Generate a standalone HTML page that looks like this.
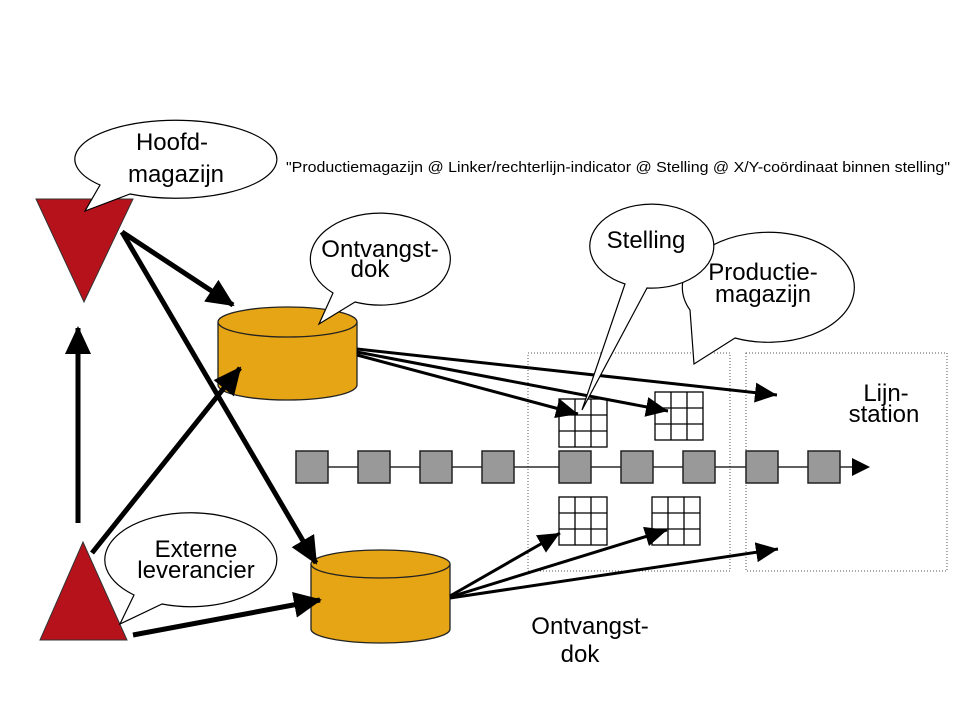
<!DOCTYPE html>
<html><head><meta charset="utf-8"><style>body{margin:0;background:#fff}svg{display:block}text{font-family:"Liberation Sans",sans-serif;fill:#000}</style></head>
<body>
<svg width="960" height="720" viewBox="0 0 960 720" xmlns="http://www.w3.org/2000/svg">
<defs>
<marker id="ah" markerWidth="22" markerHeight="20" refX="22" refY="10" orient="auto" markerUnits="userSpaceOnUse" viewBox="0 0 22 20"><path d="M0,0 L22,10 L0,20 z" fill="#000"/></marker>
<marker id="ahb" markerWidth="28" markerHeight="26" refX="26" refY="13" orient="auto" markerUnits="userSpaceOnUse" viewBox="0 0 28 26"><path d="M0,0 L28,13 L0,26 z" fill="#000"/></marker>
</defs>
<rect x="528" y="353" width="202" height="218" fill="none" stroke="#555" stroke-width="1" stroke-dasharray="1,2"/>
<rect x="746" y="353" width="201" height="218" fill="none" stroke="#555" stroke-width="1" stroke-dasharray="1,2"/>
<line x1="296" y1="467" x2="852" y2="467" stroke="#000" stroke-width="1.2"/>
<path d="M852,458 L870,467 L852,476 z" fill="#000"/>
<g fill="#999" stroke="#222" stroke-width="1.5">
<rect x="296" y="451" width="32" height="32"/><rect x="358" y="451" width="32" height="32"/><rect x="420" y="451" width="32" height="32"/><rect x="482" y="451" width="32" height="32"/><rect x="559" y="451" width="32" height="32"/><rect x="621" y="451" width="32" height="32"/><rect x="683" y="451" width="32" height="32"/><rect x="746" y="451" width="32" height="32"/><rect x="808" y="451" width="32" height="32"/>
</g>
<g fill="#fff" stroke="#000" stroke-width="1.3">
<g transform="translate(559,399)"><rect width="48" height="48"/><path d="M16,0V48M32,0V48M0,16H48M0,32H48"/></g>
<g transform="translate(655,392)"><rect width="48" height="48"/><path d="M16,0V48M32,0V48M0,16H48M0,32H48"/></g>
<g transform="translate(559,497)"><rect width="48" height="48"/><path d="M16,0V48M32,0V48M0,16H48M0,32H48"/></g>
<g transform="translate(652,497)"><rect width="48" height="48"/><path d="M16,0V48M32,0V48M0,16H48M0,32H48"/></g>
</g>
<polygon points="36,199 133,199 84,302" fill="#b5121b" stroke="#333" stroke-width="1"/>
<polygon points="40,640 127,640 83,542" fill="#b5121b" stroke="#333" stroke-width="1"/>
<g stroke="#222" stroke-width="1.3" fill="#e6a514">
<path d="M218,322 V385 A69.5,15 0 0 0 357,385 V322"/>
<ellipse cx="287.5" cy="322" rx="69.5" ry="15"/>
<path d="M311,564 V629 A69.5,14 0 0 0 450,629 V564"/>
<ellipse cx="380.5" cy="564" rx="69.5" ry="14"/>
</g>
<g stroke="#000" stroke-width="5" fill="none" marker-end="url(#ahb)">
<line x1="78" y1="523" x2="78" y2="328"/>
<line x1="122" y1="232" x2="233" y2="305"/>
<line x1="122" y1="232" x2="316" y2="563"/>
<line x1="92" y1="553" x2="240" y2="368"/>
<line x1="133" y1="635" x2="320" y2="600"/>
</g>
<g stroke="#000" stroke-width="3" fill="none" marker-end="url(#ah)">
<line x1="357" y1="349" x2="777" y2="395"/>
<line x1="357" y1="355" x2="578" y2="414"/>
<line x1="357" y1="352" x2="668" y2="411"/>
<line x1="450" y1="596" x2="560" y2="533"/>
<line x1="450" y1="597" x2="667" y2="530"/>
<line x1="450" y1="598" x2="778" y2="549"/>
</g>
<g fill="#fff" stroke="#000" stroke-width="1.2">
<path d="M130,194 A101,39 0 1 0 100,185 L85,211 Z"/>
<path d="M355,302 A70,46 0 1 0 333,293 L319,324 Z"/>
<path d="M735,338 A86,55 0 1 0 690,310 L694,364 Z"/>
<path d="M647,288 A62,42 0 1 0 625,284 L582,410 Z"/>
<path d="M162,604 A86,47 0 1 0 134,595 L120,624 Z"/>
</g>
<g font-size="24">
<text x="172" y="150" text-anchor="middle">Hoofd-</text>
<text x="176" y="182" text-anchor="middle">magazijn</text>
<text x="380" y="257" text-anchor="middle">Ontvangst-</text>
<text x="370" y="277" text-anchor="middle">dok</text>
<text x="646" y="248" text-anchor="middle">Stelling</text>
<text x="763" y="280" text-anchor="middle">Productie-</text>
<text x="763" y="302" text-anchor="middle">magazijn</text>
<text x="196" y="557" text-anchor="middle">Externe</text>
<text x="196" y="578" text-anchor="middle">leverancier</text>
<text x="886" y="401" text-anchor="middle">Lijn-</text>
<text x="884" y="422" text-anchor="middle">station</text>
<text x="590" y="634" text-anchor="middle">Ontvangst-</text>
<text x="580" y="662" text-anchor="middle">dok</text>
</g>
<text x="286" y="172" font-size="15" textLength="664" lengthAdjust="spacingAndGlyphs">"Productiemagazijn @ Linker/rechterlijn-indicator @ Stelling @ X/Y-coördinaat binnen stelling"</text>
</svg>
</body></html>
